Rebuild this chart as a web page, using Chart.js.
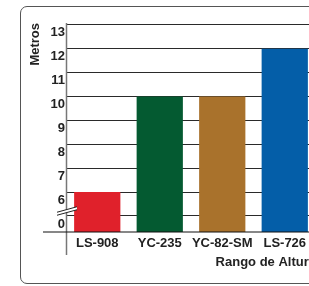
<!DOCTYPE html>
<html>
<head>
<meta charset="utf-8">
<script src="https://cdn.jsdelivr.net/npm/chart.js@4/dist/chart.umd.min.js"></script>
<style>
  html, body { margin: 0; padding: 0; background: #fff; overflow: hidden; }
  body { width: 309px; height: 286px; position: relative; }
  #card { position: absolute; left: 20px; top: 6px; width: 340px; height: 276px;
          border: 1.5px solid #555; border-radius: 7px; background: #fff; }
  #wrap { position: absolute; left: 0; top: 0; width: 330px; height: 286px; }
</style>
</head>
<body>
<div id="card"></div>
<div id="wrap"><canvas id="chart"></canvas></div>
<script>
// data
const modelos = ['LS-908', 'YC-235', 'YC-82-SM', 'LS-726'];
const alturas = [6, 10, 10, 12];
const colores = ['#e0212b', '#045a31', '#a9722c', '#045ea8'];
// broken axis: the "0" label sits one step below 6
const tickValues = [5, 6, 7, 8, 9, 10, 11, 12, 13];
const tickLabels = ['0', '6', '7', '8', '9', '10', '11', '12', '13'];
const Y_MIN = 4.33, Y_MAX = 13.08;

const FONT = "'Liberation Sans', Arial, sans-serif";

const axisDecor = {
  id: 'axisDecor',
  afterDraw(chart) {
    const ctx = chart.ctx;
    const a = chart.chartArea;
    const y = chart.scales.y;
    ctx.save();
    // y axis line, runs below the baseline
    ctx.strokeStyle = '#777';
    ctx.lineWidth = 1.5;
    ctx.beginPath();
    ctx.moveTo(a.left + 0.5, a.top);
    ctx.lineTo(a.left + 0.5, a.bottom + 23);
    ctx.stroke();
    // baseline
    ctx.strokeStyle = '#111';
    ctx.lineWidth = 1.2;
    ctx.beginPath();
    ctx.moveTo(a.left - 23, a.bottom);
    ctx.lineTo(chart.width, a.bottom);
    ctx.stroke();
    // break mark
    const cy = y.getPixelForValue(5.22);
    const cx = a.left + 1;
    ctx.fillStyle = '#fff';
    ctx.beginPath();
    ctx.moveTo(cx - 10, cy + 1.5);
    ctx.lineTo(cx + 10, cy - 4);
    ctx.lineTo(cx + 10, cy - 1);
    ctx.lineTo(cx - 10, cy + 4.5);
    ctx.closePath();
    ctx.fill();
    ctx.strokeStyle = '#222';
    ctx.lineWidth = 1;
    [0, 3].forEach(d => {
      ctx.beginPath();
      ctx.moveTo(cx - 10, cy + 1.5 + d);
      ctx.lineTo(cx + 10, cy - 4 + d);
      ctx.stroke();
    });
    ctx.restore();
  }
};

new Chart(document.getElementById('chart'), {
  type: 'bar',
  data: {
    labels: modelos,
    datasets: [{
      data: alturas,
      backgroundColor: colores,
      base: Y_MIN,
      barPercentage: 0.74,
      categoryPercentage: 1
    }]
  },
  options: {
    responsive: true,
    maintainAspectRatio: false,
    animation: false,
    layout: { padding: { left: 28, top: 23, right: 14, bottom: 16 } },
    plugins: { legend: { display: false }, tooltip: { enabled: false } },
    scales: {
      x: {
        grid: { display: false, drawTicks: false },
        border: { display: false },
        ticks: {
          color: '#222', padding: 4, maxRotation: 0, autoSkip: false,
          font: { family: FONT, size: 13, weight: 'bold' }
        },
        title: {
          display: true, text: 'Rango de Altura', align: 'end', color: '#222',
          padding: 0, font: { family: FONT, size: 13, weight: 'bold' }
        },
        afterFit: s => { s.height = 38; }
      },
      y: {
        z: 1,
        min: Y_MIN,
        max: Y_MAX,
        afterBuildTicks: s => { s.ticks = tickValues.map(v => ({ value: v })); },
        grid: { color: '#2a2a2a', lineWidth: 1, drawTicks: false },
        border: { display: false },
        ticks: {
          color: '#222', padding: 1, labelOffset: 8,
          font: { family: FONT, size: 13, weight: 'bold' },
          callback: v => tickLabels[tickValues.indexOf(v)]
        },
        title: {
          display: true, text: 'Metros', align: 'end', color: '#222',
          padding: 0, font: { family: FONT, size: 13, weight: 'bold' }
        },
        afterFit: s => { s.width = 38; }
      }
    }
  },
  plugins: [axisDecor]
});
</script>
</body>
</html>
